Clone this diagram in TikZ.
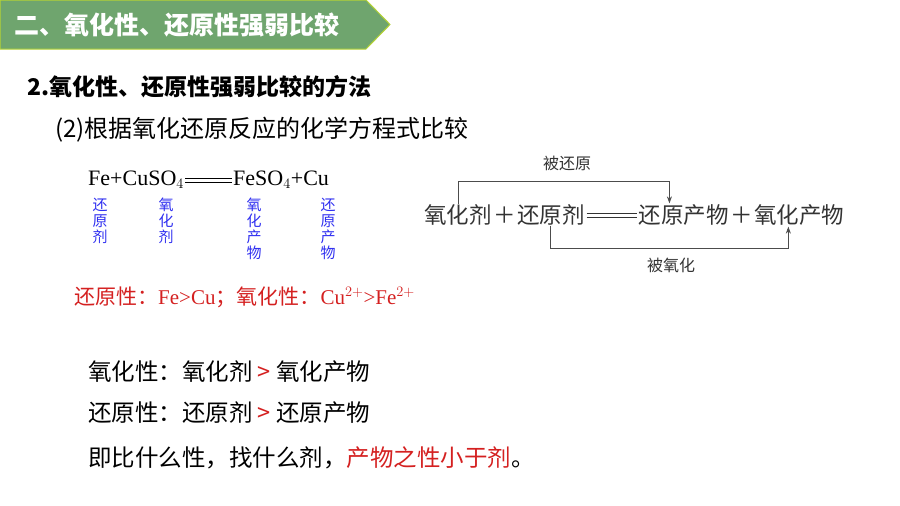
\documentclass[tikz,border=0pt]{standalone}
\usepackage{fontspec}
\setmainfont{Liberation Serif}
\newfontfamily\cjk{Noto Sans CJK SC}
\usetikzlibrary{positioning,calc,arrows.meta}
\definecolor{bannergreen}{HTML}{6FA56E}
\definecolor{bannerline}{HTML}{B5D334}
\definecolor{labblue}{HTML}{2F2FF0}
\definecolor{hintred}{HTML}{D42020}
\tikzset{
  vlab/.style={font=\cjk\fontsize{15}{16}\selectfont, text=labblue, align=center, anchor=north, inner sep=0pt},
  term/.style={font=\cjk\fontsize{22.5}{24}\selectfont, text=black!80, inner sep=0pt},
  body/.style={font=\cjk\fontsize{23.5}{26}\selectfont, anchor=west, inner sep=0pt},
  turnline/.style={black!70, line width=0.6pt, -{Stealth[length=7pt,width=5pt]}},
}
\begin{document}
\begin{tikzpicture}[x=1pt,y=-1pt]
\useasboundingbox (0,0) rectangle (900,506);
%\draw[help lines,step=50] (0,0) grid (900,506);
% banner
\draw[fill=bannergreen, draw=bannerline, line width=1pt] (0,0) -- (366,0) -- (390,24.5) -- (366,49) -- (0,49) -- cycle;
\node[font=\cjk\bfseries\fontsize{25}{28}\selectfont, text=white, anchor=west, inner sep=0pt] (title) at (14,25) {二、氧化性、还原性强弱比较};

\node[font=\cjk\bfseries\fontsize{23}{26}\selectfont, anchor=west, inner sep=0pt] (method) at (27,87) {2.氧化性、还原性强弱比较的方法};
\node[font=\cjk\fontsize{24}{28}\selectfont, anchor=west, inner sep=0pt] (sub) at (55,130) {(2)根据氧化还原反应的化学方程式比较};

% Fe + CuSO4 equation
\node[font=\fontsize{22}{24}\selectfont, anchor=west, inner sep=0pt] (lhs) at (88,180) {Fe+CuSO$_4$};
\node[font=\fontsize{22}{24}\selectfont, anchor=west, inner sep=0pt] (rhs) at (233,180) {FeSO$_4$+Cu};
\draw[line width=0.6pt] ($(lhs.east)+(1,-2)$) -- ($(rhs.west)+(-1,-2)$);
\draw[line width=0.6pt] ($(lhs.east)+(1,2)$) -- ($(rhs.west)+(-1,2)$);
\node[vlab] (rd1) at (100,198) {还\\原\\剂};
\node[vlab] (ox1) at (166,198) {氧\\化\\剂};
\node[vlab] (op1) at (254,198) {氧\\化\\产\\物};
\node[vlab] (rp1) at (328,198) {还\\原\\产\\物};
\node[font=\cjk\fontsize{21}{24}\selectfont, text=hintred, anchor=west, inner sep=0pt] (comp) at (74,297) {还原性：\textrm{Fe>Cu}；氧化性：\textrm{Cu$^{2+}$>Fe$^{2+}$}};

% general scheme
\node[term, anchor=west] (ox) at (424,215) {氧化剂};
\node[term, right=1pt of ox] (p1) {＋};
\node[term, right=1pt of p1] (rd) {还原剂};
\coordinate[right=54pt of rd] (eqend);
\node[term, right=0pt of eqend] (rp) {还原产物};
\node[term, right=1pt of rp] (p2) {＋};
\node[term, right=1pt of p2] (op) {氧化产物};
\draw[black!80, line width=0.6pt] ($(rd.east)+(2,-2)$) -- ($(eqend)+(-2,-2)$);
\draw[black!80, line width=0.6pt] ($(rd.east)+(2,2)$) -- ($(eqend)+(-2,2)$);
\coordinate (topin) at ($(rp.north west)!0.34!(rp.north east)$);
\coordinate (botin) at ($(op.south west)!0.38!(op.south east)$);
\draw[turnline] (ox.north) -- ++(0,-23) -| ($(topin)+(0,-1)$);
\draw[turnline] (rd.south) -- ++(0,23) -| ($(botin)+(0,1)$);
\node[font=\cjk\fontsize{16}{18}\selectfont, text=black!80] (lred) at (567,163) {被还原};
\node[font=\cjk\fontsize{16}{18}\selectfont, text=black!80] (lox) at (671,265) {被氧化};

% conclusions
\node[body] (c1) at (88,372) {氧化性：氧化剂 {\color{hintred}>} 氧化产物};
\node[body] (c2) at (88,413) {还原性：还原剂 {\color{hintred}>} 还原产物};
\node[body] (c3) at (88,458) {即比什么性，找什么剂，{\color{hintred}产物之性小于剂}。};
\end{tikzpicture}
\end{document}
